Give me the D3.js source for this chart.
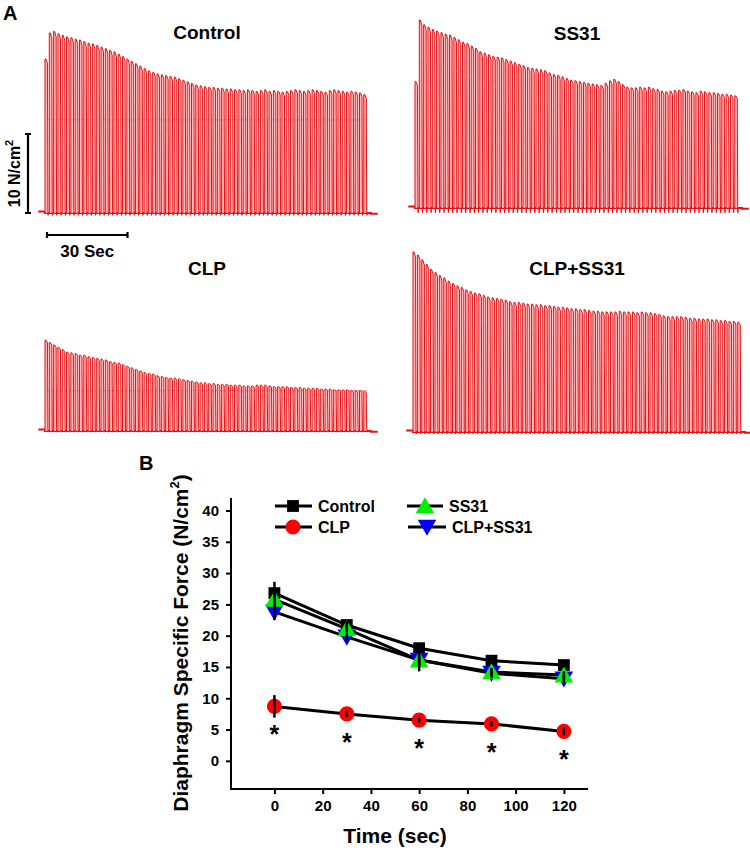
<!DOCTYPE html>
<html><head><meta charset="utf-8">
<script src="https://cdn.jsdelivr.net/npm/d3@7/dist/d3.min.js"></script>
<style>body{margin:0;background:#fff}svg{display:block;font-family:"Liberation Sans",Arial,sans-serif;font-weight:bold}</style>
</head><body><svg id="c" width="750" height="853"></svg>
<script>
// ---------- Panel A: peak force of each contraction (N/cm2) ----------
const controlPeaks = [19.5,22.8,23.0,22.7,22.5,22.3,22.2,22.0,21.9,21.7,21.5,21.4,21.2,21.0,20.8,20.6,20.4,20.1,19.8,19.5,19.2,18.9,18.6,18.3,18.0,17.8,17.6,17.5,17.4,17.3,17.2,17.0,16.8,16.6,16.4,16.2,16.1,16.0,15.9,15.9,15.8,15.8,15.7,15.7,15.6,15.6,15.5,15.6,15.5,15.4,15.5,15.6,15.4,15.5,15.4,15.3,15.4,15.5,15.6,15.5,15.4,15.5,15.6,15.5,15.4,15.3,15.5,15.6,15.5,15.4,15.3,15.4,15.3,15.2,15.0];
const ss31Peaks = [16.0,23.8,23.2,22.9,22.6,22.4,22.2,22.0,21.9,21.6,21.3,21.0,20.8,20.5,20.2,19.8,19.6,19.4,19.2,19.1,19.0,18.8,18.6,18.4,18.2,18.0,17.8,17.7,17.6,17.5,17.4,17.1,16.9,16.8,16.6,16.4,16.2,16.1,16.0,15.9,15.8,15.7,15.6,15.5,15.8,16.1,16.3,16.0,15.6,15.3,15.2,15.2,15.3,15.2,15.3,15.1,15.0,14.8,14.7,14.8,14.9,14.9,15.0,14.8,14.7,14.6,14.8,14.7,14.6,14.6,14.5,14.4,14.4,14.3,14.2];
const clpPeaks = [11.5,11.2,10.9,10.6,10.3,10.0,9.9,9.8,9.6,9.6,9.4,9.3,9.2,9.1,9.0,8.8,8.7,8.6,8.4,8.2,8.0,7.8,7.6,7.4,7.3,7.2,7.0,6.9,6.8,6.7,6.7,6.6,6.5,6.4,6.3,6.2,6.1,6.1,6.0,6.0,5.9,5.9,5.9,5.8,5.8,5.8,5.7,5.7,5.7,5.8,5.8,5.8,5.7,5.6,5.6,5.6,5.6,5.5,5.5,5.5,5.4,5.4,5.4,5.4,5.3,5.3,5.3,5.2,5.2,5.2,5.2,5.1,5.1,5.1,5.0];
const clpSs31Peaks = [22.8,22.4,21.8,21.2,20.6,20.2,19.8,19.5,19.1,18.8,18.5,18.3,18.0,17.8,17.6,17.5,17.3,17.1,17.0,16.9,16.8,16.7,16.5,16.4,16.4,16.3,16.2,16.2,16.1,16.1,16.0,16.0,15.9,15.8,15.8,15.7,15.6,15.6,15.5,15.5,15.4,15.3,15.3,15.2,15.2,15.2,15.2,15.3,15.2,15.2,15.2,15.1,15.2,15.1,15.1,15.0,14.9,14.7,14.6,14.6,14.6,14.6,14.5,14.4,14.4,14.3,14.3,14.3,14.2,14.2,14.1,14.1,14.0,14.0,13.9];
const traceTitles = ["Control","SS31","CLP","CLP+SS31"];

// ---------- Panel B ----------
const timePoints = [0,30,60,90,120];
const seriesNames = ["Control","SS31","CLP","CLP+SS31"];
const controlMean = [26.8,21.7,18.0,16.0,15.3];
const controlErr  = [1.8,0.6,0.5,0.4,0.4];
const ss31Mean    = [25.8,21.1,16.1,14.2,13.7];
const ss31Err     = [1.5,0.6,1.8,0.6,0.6];
const clpMean     = [8.7,7.5,6.5,5.9,4.7];
const clpErr      = [1.8,0.5,0.4,0.4,0.6];
const clpSs31Mean = [23.8,19.8,16.1,14.0,13.1];
const clpSs31Err  = [1.3,0.6,0.8,0.8,0.6];
const xTicks = [0,20,40,60,80,100,120];
const yTicks = [0,5,10,15,20,25,30,35,40];

const svg = d3.select("#c");
const RED = "#e60f14", PINK = "#ffb3b3";

// Panel A
svg.append("text").attr("x",3).attr("y",20).attr("font-size",20).text("A");
const traces = [
  {peaks:controlPeaks, x0:45, x1:367, base:213, tx:207, ty:39, line:11.8, dip:0.3},
  {peaks:ss31Peaks, x0:415, x1:738, base:208, tx:577, ty:40, line:null, dip:0.6},
  {peaks:clpPeaks, x0:45, x1:367, base:431, tx:207, ty:275, line:5.1, dip:0.15},
  {peaks:clpSs31Peaks, x0:413, x1:741, base:432, tx:577, ty:275, line:null, dip:0.25}
];
let ctrlX, ctrlY;
traces.forEach((tr,k)=>{
  const xs = d3.scaleLinear().domain([0,120]).range([tr.x0,tr.x1]);
  const ys = d3.scaleLinear().domain([0,10]).range([tr.base,tr.base-79]);
  if(k===0){ctrlX=xs;ctrlY=ys;}
  const g = svg.append("g");
  const n = tr.peaks.length, per = 118.8/(n-1);
  const line = d3.line().x(d=>xs(d[0])).y(d=>ys(d[1]));
  g.append("path").attr("d",line([[-2.5,0.2],[0,0.2],[0,0],[121.5,0],[121.5,-0.1],[124,-0.1]]))
    .attr("fill","none").attr("stroke",RED).attr("stroke-width",2);
  if(tr.line!==null){
    g.append("path").attr("d",line([[0,tr.line],[120,tr.line]])).attr("stroke",RED)
      .attr("stroke-opacity",0.35).attr("stroke-width",1.2);
  }
  tr.peaks.forEach((p,i)=>{
    const t = i*per;
    const pts = [[t,0],[t,p],[t+0.35,p],[t+0.95,p*0.97],[t+0.95,p*0.8],[t+1.1,0.3],[t+1.15,-tr.dip],[t+1.3,0]];
    g.append("path").attr("d",line(pts)).attr("fill",PINK).attr("fill-opacity",0.95)
      .attr("stroke",RED).attr("stroke-width",1).attr("stroke-linejoin","round");
  });
  svg.append("text").attr("x",tr.tx).attr("y",tr.ty).attr("text-anchor","middle")
    .attr("font-size",19).text(traceTitles[k]);
});
// scale bars
const sb = svg.append("g").attr("stroke","#000").attr("stroke-width",2.2).attr("fill","none");
sb.append("path").attr("d",`M28,${ctrlY(0)}V${ctrlY(10)}M25,${ctrlY(0)}H31M25,${ctrlY(10)}H31`);
const hx0 = ctrlX(0)+2, hx1 = ctrlX(30)+2;
sb.append("path").attr("d",`M${hx0},235H${hx1}M${hx0},232V238M${hx1},232V238`);
const vl = svg.append("text").attr("transform",`translate(20,${(ctrlY(0)+ctrlY(10))/2}) rotate(-90)`)
  .attr("text-anchor","middle").attr("font-size",16);
vl.append("tspan").text("10 N/cm");
vl.append("tspan").attr("font-size",11).attr("dy",-7).text("2");
svg.append("text").attr("x",(hx0+hx1)/2).attr("y",257).attr("text-anchor","middle").attr("font-size",17).text("30 Sec");

// Panel B
svg.append("text").attr("x",139).attr("y",470).attr("font-size",20).text("B");
const x = d3.scaleLinear().domain([-18,130]).range([231,588]);
const y = d3.scaleLinear().domain([-4.5,42]).range([789,498]);
svg.append("path").attr("d",`M${x(-18)},${y(42)}V${y(-4.5)}H${x(130)}`).attr("fill","none").attr("stroke","#000").attr("stroke-width",2);
const xa = svg.append("g").attr("transform",`translate(0,${y(-4.5)})`)
  .call(d3.axisBottom(x).tickValues(xTicks).tickSize(5).tickPadding(6));
const ya = svg.append("g").attr("transform",`translate(${x(-18)},0)`)
  .call(d3.axisLeft(y).tickValues(yTicks).tickSize(5).tickPadding(7));
[xa,ya].forEach(a=>{
  a.select(".domain").remove();
  a.selectAll("line").attr("stroke-width",2);
  a.selectAll("text").attr("font-size",15).attr("font-family","Liberation Sans, Arial, sans-serif").attr("font-weight","bold").attr("fill","#000");
});
svg.append("text").attr("x",x(50)).attr("y",843).attr("text-anchor","middle").attr("font-size",21).text("Time (sec)");
const yt = svg.append("text").attr("transform","translate(188,643) rotate(-90)").attr("text-anchor","middle").attr("font-size",21);
yt.append("tspan").text("Diaphragm Specific Force (N/cm");
yt.append("tspan").attr("font-size",13).attr("dy",-9).text("2");
yt.append("tspan").attr("dy",9).text(")");

const series = [
  {mean:controlMean, err:controlErr, sym:d3.symbolSquare, size:140, fill:"#000"},
  {mean:clpSs31Mean, err:clpSs31Err, sym:d3.symbolTriangle, size:150, fill:"#0000ff", rot:180},
  {mean:ss31Mean, err:ss31Err, sym:d3.symbolTriangle, size:150, fill:"#00ee00"},
  {mean:clpMean, err:clpErr, sym:d3.symbolCircle, size:180, fill:"#ff0000"}
];
const ln = d3.line().x((d,i)=>x(timePoints[i])).y(d=>y(d));
series.forEach(s=>{
  svg.append("path").attr("d",ln(s.mean)).attr("fill","none").attr("stroke","#000").attr("stroke-width",3);
});
series.forEach(s=>{
  s.mean.forEach((m,i)=>{
    svg.append("path").attr("d",d3.symbol(s.sym,s.size)())
      .attr("transform",`translate(${x(timePoints[i])},${y(m)+(s.rot?-2:(s.sym===d3.symbolTriangle?2:0))}) rotate(${s.rot||0})`)
      .attr("fill",s.fill);
  });
});
series.forEach(s=>{
  s.mean.forEach((m,i)=>{
    svg.append("line").attr("x1",x(timePoints[i])).attr("x2",x(timePoints[i]))
      .attr("y1",y(m-s.err[i])).attr("y2",y(m+s.err[i])).attr("stroke","#000").attr("stroke-width",2.5);
  });
});
clpMean.forEach((m,i)=>{
  svg.append("text").attr("x",x(timePoints[i])).attr("y",y(m)+37).attr("text-anchor","middle").attr("font-size",25).text("*");
});
const leg = [
  {name:seriesNames[0], lx0:275, lx1:312, mx:293, tx:318, ly:506, sym:d3.symbolSquare, size:140, fill:"#000"},
  {name:seriesNames[1], lx0:407, lx1:443, mx:425, tx:449, ly:506, sym:d3.symbolTriangle, size:150, fill:"#00ee00"},
  {name:seriesNames[2], lx0:275, lx1:312, mx:293, tx:318, ly:527, sym:d3.symbolCircle, size:180, fill:"#ff0000"},
  {name:seriesNames[3], lx0:408, lx1:446, mx:427, tx:452, ly:527, sym:d3.symbolTriangle, size:150, fill:"#0000ff", rot:180}
];
leg.forEach(l=>{
  svg.append("line").attr("x1",l.lx0).attr("x2",l.lx1).attr("y1",l.ly).attr("y2",l.ly).attr("stroke","#000").attr("stroke-width",3);
  svg.append("path").attr("d",d3.symbol(l.sym,l.size)())
    .attr("transform",`translate(${l.mx},${l.ly+(l.rot?-2:(l.sym===d3.symbolTriangle?2:0))}) rotate(${l.rot||0})`).attr("fill",l.fill);
  svg.append("text").attr("x",l.tx).attr("y",l.ly+6).attr("font-size",16).text(l.name);
});
</script></body></html>
